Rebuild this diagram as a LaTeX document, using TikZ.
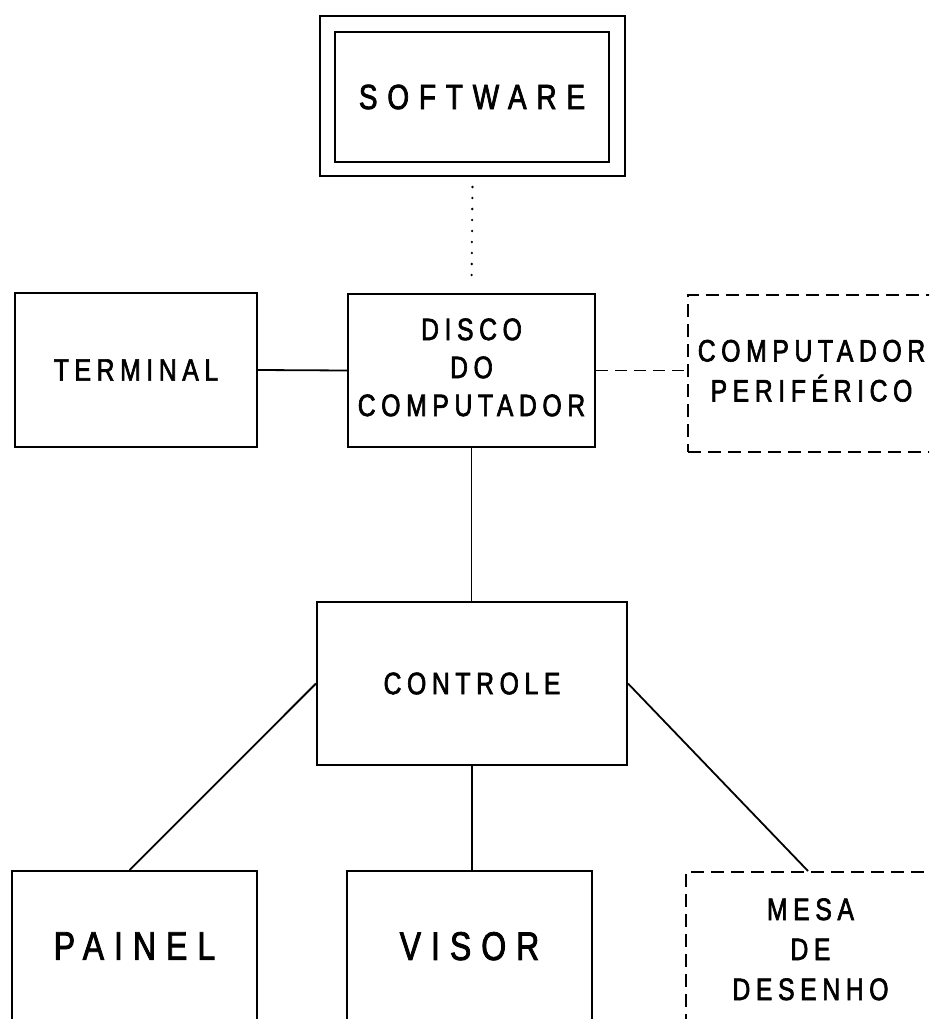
\documentclass[tikz,border=0pt]{standalone}
\usepackage{fontspec}
\usetikzlibrary{calc}
\newfontfamily\lblsoft[LetterSpace=28,FakeStretch=0.8,FakeBold=2]{Liberation Sans}
\newfontfamily\lbl[LetterSpace=18,FakeStretch=0.8,FakeBold=2]{Liberation Sans}
\newfontfamily\lblwide[LetterSpace=25,FakeStretch=0.8,FakeBold=2]{Liberation Sans}
\begin{document}
\begin{tikzpicture}[x=1pt,y=-1pt,
  box/.style={draw,line width=2pt,rectangle,inner sep=0pt,align=center},
  dbox/.style={box,dash pattern=on 13pt off 7pt},
  link/.style={line width=1.8pt},
  dlink/.style={line width=1.8pt,dash pattern=on 12pt off 7pt},
  dotlink/.style={line width=2.6pt,line cap=round,dash pattern=on 0pt off 11pt},
  mid/.style={font=\lbl\fontsize{31}{38}\selectfont},
  big/.style={font=\lblwide\fontsize{40}{44}\selectfont}]
\useasboundingbox (0,0) rectangle (929,1019);
\clip (0,0) rectangle (929,1019);
% SOFTWARE
\node[box,minimum width=305pt,minimum height=160pt] (softout) at (472.5,96) {};
\node[box,minimum width=274pt,minimum height=130pt,font=\lblsoft\fontsize{35}{38}\selectfont] (soft) at (472,97) {SOFTWARE};
% row 2
\node[box,minimum width=242pt,minimum height=154pt,mid] (term) at (136,370) {TERMINAL};
\node[box,minimum width=247pt,minimum height=153pt,mid] (disco) at (471.5,370.5) {\raisebox{1pt}{\begin{tabular}{@{}c@{}}DISCO\\DO\\COMPUTADOR\end{tabular}}};
\node[dbox,minimum width=247pt,minimum height=157pt,font=\lbl\fontsize{31}{40}\selectfont] (peri) at (811.5,373.5) {\raisebox{2pt}{\begin{tabular}{@{}c@{}}COMPUTADOR\\PERIFÉRICO\end{tabular}}};
% controle
\node[box,minimum width=310pt,minimum height=163pt,mid] (ctrl) at (472,683.5) {CONTROLE};
% bottom row
\node[box,minimum width=245pt,minimum height=160pt,big] (painel) at (134.5,951) {\raisebox{10pt}{PAINEL}};
\node[box,minimum width=245pt,minimum height=160pt,big] (visor) at (469.5,951) {\raisebox{10pt}{VISOR}};
\node[dbox,minimum width=249pt,minimum height=160pt,font=\lbl\fontsize{31}{40}\selectfont] (mesa) at (810.5,952) {\raisebox{8pt}{\begin{tabular}{@{}c@{}}MESA\\DE\\DESENHO\end{tabular}}};
% connectors
\draw[dotlink] ($(softout.south)+(0,10)$) -- ($(disco.north)+(0,-8)$);
\draw[link] (term.east) -- (disco.west);
\draw[dlink] (disco.east) -- (disco.east -| peri.west);
\draw[link] (disco.south) -- (disco.south |- ctrl.north);
\draw[link] (ctrl.west) -- ($(painel.north west)!0.48!(painel.north east)$);
\draw[link] (ctrl.south) -- (ctrl.south |- visor.north);
\draw[link] (ctrl.east) -- ($(mesa.north west)!0.49!(mesa.north east)$);
\end{tikzpicture}
\end{document}
